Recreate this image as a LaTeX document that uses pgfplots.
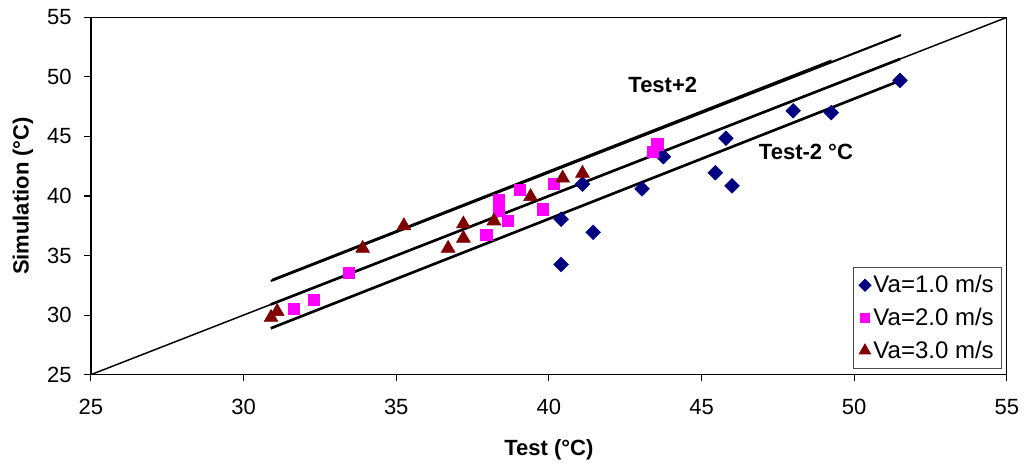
\documentclass[border=0pt]{standalone}
\usepackage{pgfplots}
\pgfplotsset{compat=1.18}
\usepackage{fontspec}
\setmainfont{Liberation Sans}
\definecolor{navyc}{RGB}{0,0,128}
\definecolor{magc}{RGB}{255,0,255}
\definecolor{redc}{RGB}{128,0,0}
\begin{document}
\begin{tikzpicture}
\begin{axis}[
  scale only axis, width=687pt, height=268pt,
  xmin=25, xmax=55, ymin=25, ymax=55,
  xtick={25,30,...,55}, ytick={25,30,...,55},
  xtick pos=bottom, ytick pos=left,
  tick align=outside, major tick length=5pt,
  tick style={black, line width=0.8pt},
  axis line style={black, line width=0.9pt},
  /pgf/number format/assume math mode=true,
  tick label style={font=\fontsize{16.5}{19}\selectfont},
  yticklabel style={xshift=-6pt},
  xticklabel style={yshift=-10pt},
  xlabel={Test (°C)}, ylabel={Simulation (°C)},
  label style={font=\bfseries\fontsize{16.5}{20}\selectfont},
  ylabel style={at={(axis description cs:-0.0741,0.5)}, anchor=center},
  xlabel style={at={(axis description cs:0.5,-0.209)}, anchor=center},
  legend style={at={(0.995,0.016)}, anchor=south east, draw=black!70, line width=0.8pt,
    font=\fontsize{18}{21}\selectfont, row sep=6pt, inner sep=4pt,
    cells={anchor=west}},
  legend image post style={scale=0.8},
]
% identity line (full)
\addplot[black, line width=1.1pt, forget plot] coordinates {(25,25) (55,55)};
% thick reference lines
\addplot[black, line width=2pt, forget plot] coordinates {(30.89,30.89) (51.5,51.5)};
\addplot[black, line width=1.6pt, forget plot] coordinates {(30.89,32.86) (51.53,53.51)};
\addplot[black, line width=2pt, forget plot] coordinates {(30.95,32.95) (49.26,51.35)};
\addplot[black, line width=2pt, forget plot] coordinates {(30.89,28.89) (51.5,49.68)};

\addplot[only marks, mark=square*, mark options={rotate=45, fill=navyc, draw=navyc}, mark size=3.9pt]
coordinates {
(40.4,38.05) (40.4,34.25) (41.1,41.0) (41.45,36.95) (43.05,40.6) (43.75,43.3)
(45.45,41.95) (45.8,44.85) (46.0,40.85) (48.0,47.15) (49.25,47.0) (51.5,49.7)
};
\addlegendentry{Va=1.0 m/s}
\addplot[only marks, mark=square*, mark options={fill=magc, draw=magc}, mark size=4.2pt]
coordinates {
(31.65,30.5) (32.3,31.3) (33.45,33.55) (37.95,36.72) (38.35,39.65) (38.35,38.75)
(38.65,37.95) (39.05,40.55) (39.8,38.88) (40.15,41.0) (43.4,43.72) (43.55,44.35)
};
\addlegendentry{Va=2.0 m/s}
\addplot[only marks, mark=triangle*, mark options={fill=redc, draw=redc}, mark size=6pt]
coordinates {
(30.9,29.8) (31.1,30.3) (33.9,35.6) (35.25,37.5) (36.7,35.6) (37.2,37.65)
(37.2,36.45) (38.2,37.9) (39.4,39.95) (40.45,41.5) (41.1,41.9)
};
\addlegendentry{Va=3.0 m/s}

\node[font=\bfseries\fontsize{16.5}{20}\selectfont] at (axis cs:43.73,49.32) {Test+2};
\node[font=\bfseries\fontsize{16.5}{20}\selectfont] at (axis cs:48.42,43.7) {Test-2 °C};
\end{axis}
\pgfresetboundingbox
\path[use as bounding box] (-68.2pt,-70pt) rectangle (700.6pt,281pt);
\end{tikzpicture}
\end{document}
